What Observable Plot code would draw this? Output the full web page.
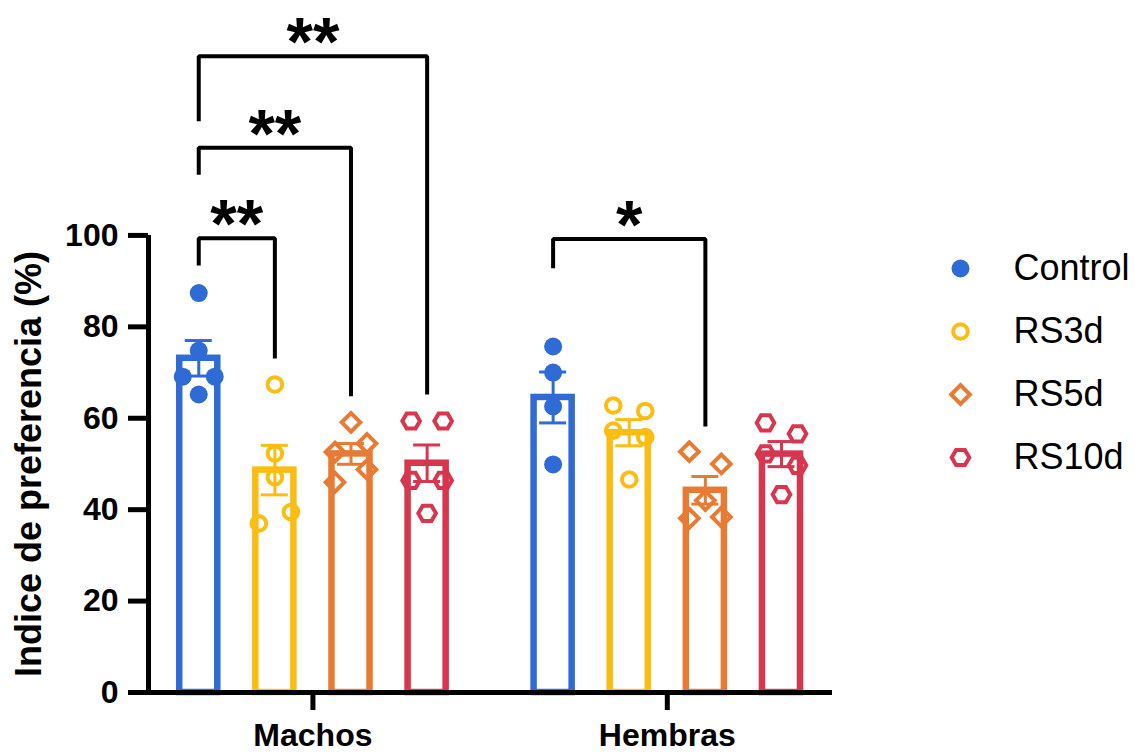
<!DOCTYPE html>
<html><head><meta charset="utf-8">
<script src="https://cdn.jsdelivr.net/npm/d3@7"></script>
<script src="https://cdn.jsdelivr.net/npm/@observablehq/plot@0.6"></script>
<style>
body{margin:0;background:#fff;}
#wrap{position:relative;width:1135px;height:755px;overflow:hidden;}
#legend{position:absolute;left:900px;top:0;}
#main{position:absolute;left:0;top:0;}
</style></head><body><div id="wrap"><div id="main"></div><div id="legend"></div></div>
<script>
// ---------- data ----------
const groups = ["Machos", "Hembras"];
const series = ["Control", "RS3d", "RS5d", "RS10d"];
const colors = ["#2f6bd5", "#fbbd12", "#e87b33", "#d8354f"];

const machosControl = [87.4, 74.8, 69.1, 69.1, 65.2];
const machosRS3d    = [67.4, 52.3, 47.1, 37.0, 39.5];
const machosRS5d    = [59.1, 52.6, 54.5, 46.0, 48.8];
const machosRS10d   = [59.4, 59.4, 46.4, 46.4, 39.2];

const hembrasControl = [75.7, 70.0, 62.6, 49.9];
const hembrasRS3d    = [62.8, 61.6, 57.3, 55.9, 46.6];
const hembrasRS5d    = [52.7, 50.0, 42.0, 38.1, 38.4];
const hembrasRS10d   = [59.0, 56.6, 52.2, 49.7, 43.3];

const values = [
  [machosControl, machosRS3d, machosRS5d, machosRS10d],
  [hembrasControl, hembrasRS3d, hembrasRS5d, hembrasRS10d]
];

const yTicks = [0, 20, 40, 60, 80, 100];
const yLabel = "Indice de preferencia (%)";

// significance brackets (levels in % units)
const comparisons = [
  {group: "Machos",  from: "Control", to: "RS3d",  label: "**", level: 99.4,  leftEnd: 93.4,  rightEnd: 73.1},
  {group: "Machos",  from: "Control", to: "RS5d",  label: "**", level: 119.2, leftEnd: 113.3, rightEnd: 64.8},
  {group: "Machos",  from: "Control", to: "RS10d", label: "**", level: 139.2, leftEnd: 125.0, rightEnd: 65.2},
  {group: "Hembras", from: "Control", to: "RS5d",  label: "*",  level: 99.2,  leftEnd: 92.8,  rightEnd: 58.2}
];

// ---------- layout helpers ----------
const groupGap = 0.655;
const pos = (gi, si) => gi * (series.length + groupGap) + si;
const xDomain = [-0.66, 8.325];
const yDomain = [0, 151.4];
const pxPerX = (832 - 148) / (xDomain[1] - xDomain[0]);
const jitterStep = 32 / pxPerX;
const halfBar = 0.25;
const halfCap = 13.5 / pxPerX;

const bars = [];
const points = [];
groups.forEach((g, gi) => {
  series.forEach((s, si) => {
    const v = values[gi][si];
    const m = d3.mean(v);
    const sem = d3.deviation(v) / Math.sqrt(v.length);
    const p = pos(gi, si);
    bars.push({group: g, series: s, pos: p, mean: m, lo: m - sem, hi: m + sem, color: colors[si]});
    // cluster close values side by side
    const order = d3.range(v.length).sort((a, b) => v[a] - v[b]);
    const clusters = [];
    order.forEach((idx, k) => {
      if (k > 0 && v[idx] - v[order[k - 1]] < 3) clusters[clusters.length - 1].push(idx);
      else clusters.push([idx]);
    });
    const off = new Array(v.length).fill(0);
    clusters.forEach(c => {
      c.sort((a, b) => a - b);
      c.forEach((idx, k) => off[idx] = (k - (c.length - 1) / 2) * jitterStep);
    });
    v.forEach((val, i) => points.push({group: g, series: s, value: val, x: p + off[i], color: colors[si]}));
  });
});

const hexFlat = {
  draw(ctx, size) {
    const R = Math.sqrt(size / Math.PI);
    const h = R * Math.sqrt(3) / 2;
    ctx.moveTo(R, 0); ctx.lineTo(R / 2, h); ctx.lineTo(-R / 2, h);
    ctx.lineTo(-R, 0); ctx.lineTo(-R / 2, -h); ctx.lineTo(R / 2, -h); ctx.closePath();
  }
};
const symbolSpec = {
  Control: {symbol: "circle", r: 9, filled: true},
  RS3d:    {symbol: "circle", r: 7.3, filled: false},
  RS5d:    {symbol: "diamond2", r: 8.4, filled: false},
  RS10d:   {symbol: hexFlat, r: 8.8, filled: false}
};
function dotOpts(s, color, extra) {
  const sp = symbolSpec[s];
  return Object.assign({
    symbol: sp.symbol, r: sp.r,
    fill: sp.filled ? color : "none",
    stroke: sp.filled ? "none" : color,
    strokeWidth: 4
  }, extra);
}

const bracketPts = [];
comparisons.forEach((c, i) => {
  const gi = groups.indexOf(c.group);
  const xa = pos(gi, series.indexOf(c.from)), xb = pos(gi, series.indexOf(c.to));
  bracketPts.push({id: i, x: xa, y: c.leftEnd}, {id: i, x: xa, y: c.level},
                  {id: i, x: xb, y: c.level}, {id: i, x: xb, y: c.rightEnd});
  c.mid = (xa + xb) / 2;
});

const groupCenters = groups.map((g, gi) => (pos(gi, 0) + pos(gi, series.length - 1)) / 2);

const font = "'Liberation Sans', Arial, Helvetica, sans-serif";

const main = Plot.plot({
  width: 1135, height: 755,
  marginLeft: 148, marginRight: 303, marginTop: 0, marginBottom: 63,
  x: {domain: xDomain},
  y: {domain: yDomain},
  color: {type: "identity"},
  style: {fontFamily: font, background: "white", color: "black"},
  marks: [
    Plot.rectY(bars, {x1: d => d.pos - halfBar, x2: d => d.pos + halfBar, y1: () => 0, y2: "mean",
      fill: "white", stroke: "color", strokeWidth: 6.5}),
    Plot.ruleX(bars, {x: "pos", y1: "lo", y2: "hi", stroke: "color", strokeWidth: 3}),
    Plot.ruleY(bars, {y: "hi", x1: d => d.pos - halfCap, x2: d => d.pos + halfCap, stroke: "color", strokeWidth: 3}),
    Plot.ruleY(bars, {y: "lo", x1: d => d.pos - halfCap, x2: d => d.pos + halfCap, stroke: "color", strokeWidth: 3}),
    ...series.map((s, si) => Plot.dot(points.filter(d => d.series === s),
      dotOpts(s, colors[si], {x: "x", y: "value"}))),
    Plot.line(bracketPts, {x: "x", y: "y", z: "id", stroke: "black", strokeWidth: 4,
      strokeLinejoin: "miter", strokeLinecap: "butt"}),
    Plot.text(comparisons, {x: "mid", y: "level", text: "label", fontSize: 68, fontWeight: "bold",
      lineAnchor: "bottom", dy: 9, fill: "black"}),
    Plot.ruleY([yTicks[0]], {stroke: "black", strokeWidth: 5, insetLeft: -20}),
    Plot.ruleX([xDomain[0]], {y1: () => yTicks[0], y2: () => yTicks[yTicks.length - 1], stroke: "black", strokeWidth: 5}),
    Plot.axisY({ticks: yTicks, tickSize: 20, tickPadding: 10, strokeWidth: 5, fontSize: 32,
      fontWeight: "bold", label: null, fill: "black"}),
    Plot.axisX({ticks: groupCenters, tickFormat: d => groups[groupCenters.indexOf(d)],
      tickSize: 18, tickPadding: 13, strokeWidth: 5, fontSize: 32, fontWeight: "bold", label: null, fill: "black"}),
    Plot.text([yLabel], {frameAnchor: "left", y: () => d3.mean(yTicks), dx: -119, rotate: -90,
      fontSize: 36, fontWeight: "bold", fill: "black", textAnchor: "middle", lineAnchor: "middle"})
  ]
});
document.getElementById("main").append(main);

const legend = Plot.plot({
  width: 235, height: 755, margin: 0,
  x: {domain: [0, 1], axis: null},
  y: {type: "point", domain: series, range: [267, 457], padding: 0, axis: null},
  style: {fontFamily: font, background: "transparent"},
  marks: [
    ...series.map((s, si) => Plot.dot([s], dotOpts(s, colors[si], {y: d => d, frameAnchor: "left", dx: 60}))),
    Plot.text(series, {y: d => d, text: d => d, frameAnchor: "left", dx: 113, textAnchor: "start",
      lineAnchor: "middle", fontSize: 36, fill: "black"})
  ]
});
document.getElementById("legend").append(legend);
</script></body></html>
